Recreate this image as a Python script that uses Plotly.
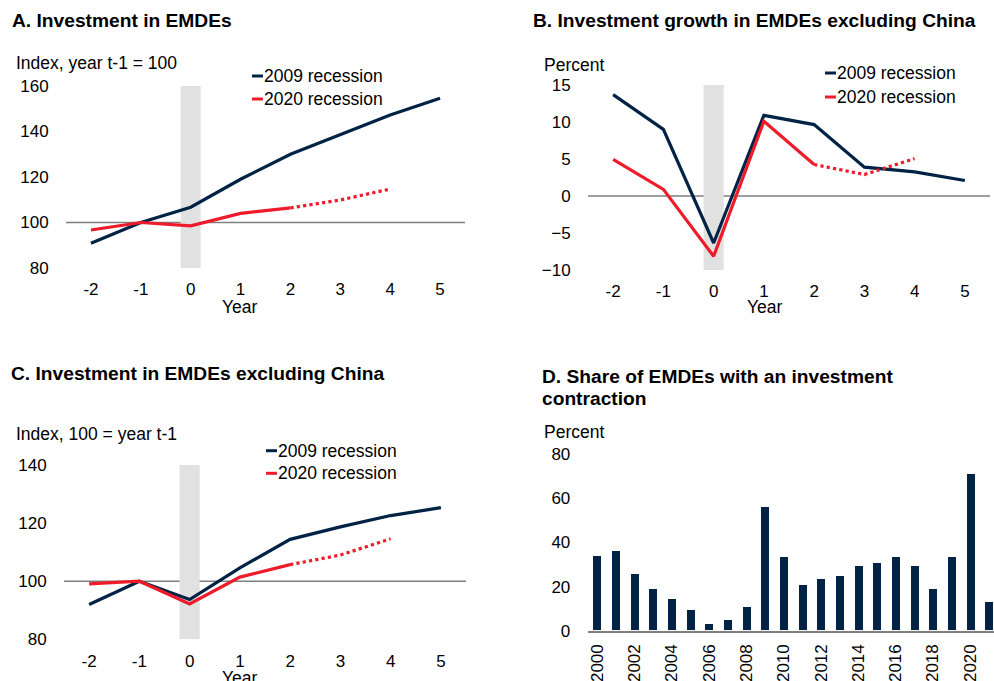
import plotly.graph_objects as go

# ---------------- data ----------------
years_rel = [-2, -1, 0, 1, 2, 3, 4, 5]
year_labels = ["-2", "-1", "0", "1", "2", "3", "4", "5"]

a_2009 = [90.9, 100.0, 106.7, 119.0, 130.0, 138.5, 147.3, 154.6]
a_2020 = [96.7, 100.0, 98.5, 104.0, 106.4, 109.9, 114.7]   # years -2..4, 3-4 forecast

b_2009 = [13.7, 9.0, -6.35, 10.9, 9.65, 3.9, 3.25, 2.1]
b_2020 = [4.95, 0.9, -8.15, 10.1, 4.25, 2.9, 5.05]

c_2009 = [92.0, 100.0, 93.7, 104.6, 114.4, 118.7, 122.6, 125.3]
c_2020 = [99.1, 100.0, 92.2, 101.4, 105.7, 109.0, 114.6]

d_years = list(range(2000, 2022))
d_share = [33.9, 36.0, 25.4, 18.9, 14.2, 9.4, 3.0, 4.5, 10.6, 56.1, 33.4,
           20.4, 23.1, 24.8, 29.0, 30.5, 33.4, 29.0, 18.8, 33.4, 71.1, 13.0]

FORECAST_START = 4  # index of year 2 (last actual)

NAVY = "#002345"
RED = "#EE1C2B"
GREY_BAND = "#E1E1E1"
AXIS_GREY = "#7F7F7F"
FONT = "Liberation Sans, Arial, sans-serif"
TXT = 17.5
TICK = 17
TITLE = 19.2

W, H = 994, 681


def px_x(p):
    return p / W


def px_y(p):
    return 1 - p / H


fig = go.Figure()

panels = {
    "A": dict(xa="x", ya="y", s09=a_2009, s20=a_2020),
    "B": dict(xa="x2", ya="y2", s09=b_2009, s20=b_2020),
    "C": dict(xa="x3", ya="y3", s09=c_2009, s20=c_2020),
}

for key, p in panels.items():
    fig.add_trace(go.Scatter(x=years_rel, y=p["s09"], mode="lines",
                             line=dict(color=NAVY, width=3.2),
                             xaxis=p["xa"], yaxis=p["ya"], showlegend=False,
                             name="2009 recession"))
    fig.add_trace(go.Scatter(x=years_rel[:FORECAST_START + 1],
                             y=p["s20"][:FORECAST_START + 1], mode="lines",
                             line=dict(color=RED, width=3.2),
                             xaxis=p["xa"], yaxis=p["ya"], showlegend=False,
                             name="2020 recession"))
    fig.add_trace(go.Scatter(x=years_rel[FORECAST_START:len(p["s20"])],
                             y=p["s20"][FORECAST_START:], mode="lines",
                             line=dict(color=RED, width=3.2, dash="dot"),
                             xaxis=p["xa"], yaxis=p["ya"], showlegend=False,
                             name="2020 recession (forecast)"))

fig.add_trace(go.Bar(x=d_years, y=d_share, marker=dict(color=NAVY, line=dict(width=0)),
                     width=0.43, xaxis="x4", yaxis="y4", showlegend=False))

tickfont = dict(family=FONT, size=TICK, color="#000000")
transparent = "rgba(0,0,0,0)"

common_x = dict(tickmode="array", tickvals=years_rel, ticktext=year_labels,
                range=[-2.5, 5.5], showgrid=False, zeroline=False, showline=False,
                ticks="outside", ticklen=6, tickcolor=transparent, tickfont=tickfont,
                fixedrange=True, automargin=False)
common_y = dict(showgrid=False, zeroline=False, showline=False, ticks="outside",
                ticklen=13, tickcolor=transparent, tickfont=tickfont, fixedrange=True,
                automargin=False)

fig.update_layout(
    template="none",
    width=W, height=H,
    margin=dict(l=0, r=0, t=0, b=0, pad=0, autoexpand=False),
    paper_bgcolor="white", plot_bgcolor="white",
    font=dict(family=FONT, size=TXT, color="#000000"),
    showlegend=False,
    bargap=0,
    xaxis=dict(common_x, domain=[px_x(66), px_x(465)], anchor="y"),
    yaxis=dict(common_y, domain=[px_y(268), px_y(86)], range=[80, 160],
               tickvals=[80, 100, 120, 140, 160], anchor="x"),
    xaxis2=dict(common_x, domain=[px_x(588), px_x(990)], anchor="y2"),
    yaxis2=dict(common_y, domain=[px_y(270), px_y(85)], range=[-10, 15],
                tickvals=[-10, -5, 0, 5, 10, 15], anchor="x2"),
    xaxis3=dict(common_x, domain=[px_x(64), px_x(466)], anchor="y3"),
    yaxis3=dict(common_y, domain=[px_y(639.3), px_y(465)], range=[80, 140],
                tickvals=[80, 100, 120, 140], anchor="x3"),
    xaxis4=dict(domain=[px_x(587.7), 1.0], range=[1999.5, 2021.27], anchor="y4",
                tickmode="linear", tick0=2000, dtick=2, tickangle=-90,
                showgrid=False, zeroline=False, showline=True, linecolor=AXIS_GREY,
                linewidth=1.5, ticks="outside", ticklen=5, tickcolor=transparent,
                tickfont=tickfont, fixedrange=True, automargin=False),
    yaxis4=dict(common_y, domain=[px_y(630.7), px_y(454.3)], range=[0, 80],
                tickvals=[0, 20, 40, 60, 80], anchor="x4"),
)

shapes = []
# recession year bands and reference lines
for xa, ya, y0, y1, ref in [("x", "y", 80, 160, 100), ("x2", "y2", -10, 15, 0),
                            ("x3", "y3", 80, 140, 100)]:
    shapes.append(dict(type="rect", xref=xa, yref=ya, x0=-0.2, x1=0.2, y0=y0, y1=y1,
                       fillcolor=GREY_BAND, line=dict(width=0), layer="below"))
    shapes.append(dict(type="line", xref=xa + " domain", yref=ya, x0=0, x1=1, y0=ref, y1=ref,
                       line=dict(color=AXIS_GREY, width=1.5), layer="below"))

annotations = []


def text(x, y, s, size=TXT, xanchor="left", yanchor="middle"):
    annotations.append(dict(xref="paper", yref="paper", x=px_x(x), y=px_y(y), text=s,
                            showarrow=False, xanchor=xanchor, yanchor=yanchor,
                            font=dict(family=FONT, size=size, color="#000000"),
                            align="left", borderpad=0))


# legends (manual, Excel-style short line markers)
for lx, ly1, ly2 in [(252, 76, 99), (825, 73, 97), (266, 450.7, 473.3)]:
    for ly, col, lab in [(ly1, NAVY, "2009 recession"), (ly2, RED, "2020 recession")]:
        shapes.append(dict(type="line", xref="paper", yref="paper",
                           x0=px_x(lx), x1=px_x(lx + 11), y0=px_y(ly), y1=px_y(ly),
                           line=dict(color=col, width=3)))
        text(lx + 11, ly, lab)

# titles
text(11, 20, "<b>A. Investment in EMDEs</b>", size=TITLE)
text(532, 20, "<b>B. Investment growth in EMDEs excluding China</b>", size=TITLE)
text(10, 373, "<b>C. Investment in EMDEs excluding China</b>", size=TITLE)
text(541, 376, "<b>D. Share of EMDEs with an investment</b>", size=TITLE)
text(541, 398, "<b>contraction</b>", size=TITLE)

# axis unit labels
text(15, 63, "Index, year t-1 = 100")
text(543, 65, "Percent")
text(15, 434, "Index, 100 = year t-1")
text(543, 432, "Percent")

# x axis titles
text(240, 307, "Year", xanchor="center")
text(765, 307, "Year", xanchor="center")
text(240, 678, "Year", xanchor="center")

fig.update_layout(shapes=shapes, annotations=annotations)

fig.write_html("out.html", config={"displayModeBar": False},
               post_script="document.body.style.margin='0';document.body.style.overflow='hidden';")
